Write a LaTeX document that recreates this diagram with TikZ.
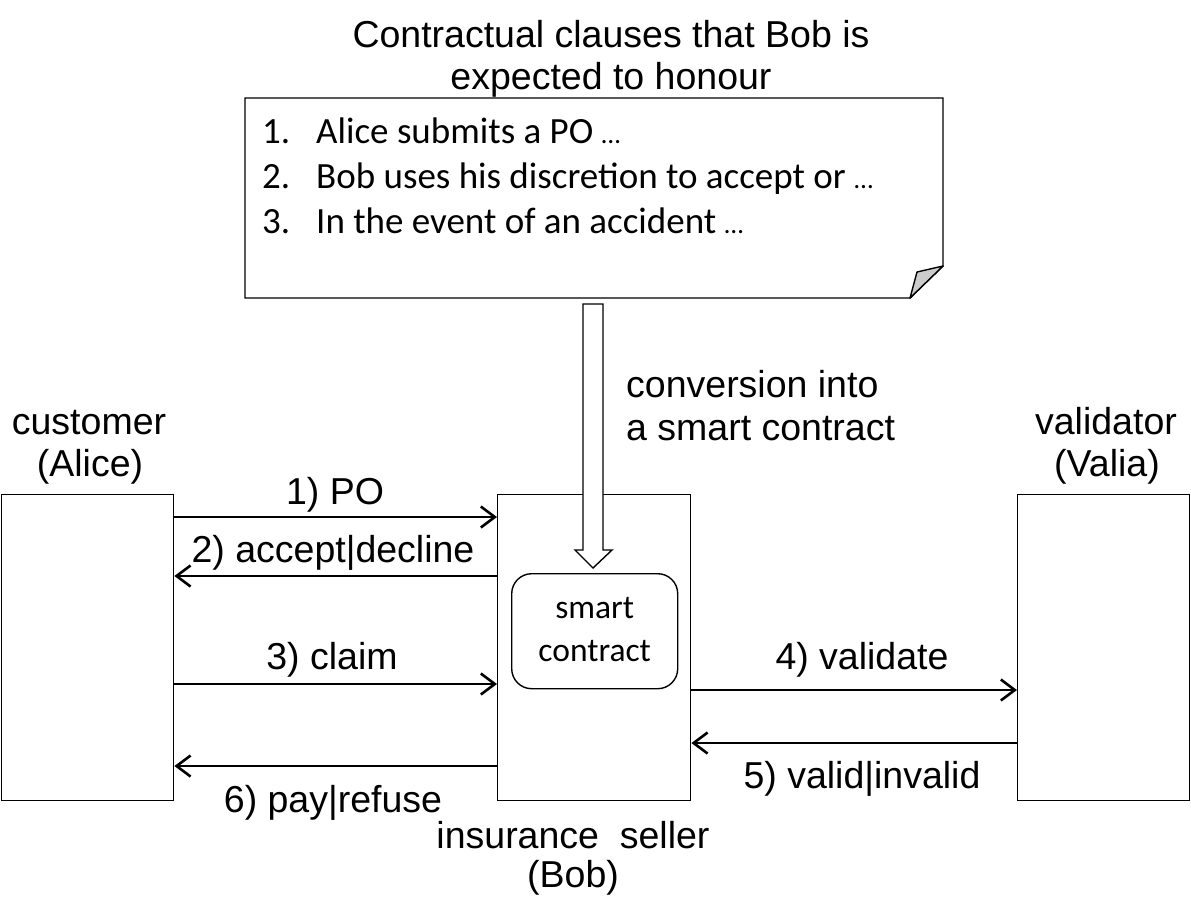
\documentclass[tikz,border=0pt]{standalone}
\usepackage{fontspec}
\setmainfont{Liberation Sans}
\newfontfamily\calibri{Carlito}
\newcommand{\smalldots}{{\fontsize{27}{27}\selectfont …}}
\usetikzlibrary{arrows.meta,calc}
\begin{document}
\begin{tikzpicture}[x=1pt,y=-1pt,
  actor/.style={draw,line width=1.4pt,inner sep=0pt,anchor=north west},
  msg/.style={line width=1.5pt,-{Straight Barb[length=14pt,width=21pt,line width=2.6pt]}},
  lbl/.style={font=\fontsize{37.5}{42}\selectfont,inner sep=0pt,anchor=base},
  lst/.style={font=\calibri\fontsize{37}{44}\selectfont,inner sep=0pt,anchor=base west}]
\useasboundingbox (0,0) rectangle (1191,911);
\fill[white] (0,0) rectangle (1191,911);

% title
\node[lbl] (t1) at (611,47) {Contractual clauses that Bob is};
\node[lbl] (t2) at (611,89) {expected to honour};

% note with folded corner
\coordinate (nA) at (245,98);
\coordinate (nB) at (943,98);
\coordinate (nC) at (943,266);
\coordinate (nD) at (910,298);
\coordinate (nE) at (245,298);
\coordinate (nF) at (917,272);
\draw[line width=1.4pt,line join=miter] (nA) -- (nB) -- (nC) -- (nD) -- (nE) -- cycle;
\draw[line width=1.4pt,fill=black!20,line join=round] (nC) -- (nD) -- (nF) -- cycle;
\node[lst] (n1) at (262,143) {1.};
\node[lst] (l1) at (316,143) {Alice submits a PO \smalldots};
\node[lst] (n2) at (262,188) {2.};
\node[lst] (l2) at (316,188) {Bob uses his discretion to accept or \smalldots};
\node[lst] (n3) at (262,233) {3.};
\node[lst] (l3) at (316,233) {In the event of an accident \smalldots};

% actors
\node[actor,minimum width=172pt,minimum height=306pt] (alice) at (1,494) {};
\node[actor,minimum width=193pt,minimum height=306pt] (bob) at (497,494) {};
\node[actor,minimum width=172pt,minimum height=306pt] (valia) at (1017,494) {};
\node[draw,line width=1.4pt,rounded corners=20pt,minimum width=166pt,minimum height=115pt,
      anchor=north west,inner sep=0pt,align=center,
      font=\calibri\fontsize{33.5}{43}\selectfont] (sc) at (511,573) {\raisebox{3pt}{smart}\\\raisebox{3pt}{contract}};

% hollow conversion arrow
\draw[line width=1.4pt,fill=white,line join=miter]
  (583,304) -- (603,304) -- (603,550) -- (612,550) -- (593,568) -- (575,550) -- (583,550) -- cycle;
\node[lbl,anchor=base west] (c1) at (626,397) {conversion into};
\node[lbl,anchor=base west] (c2) at (626,440) {a smart contract};

% actor labels
\node[lbl] (a1) at (89,434) {customer};
\node[lbl] (a2) at (90,476) {(Alice)};
\node[lbl] (v1) at (1106,434) {validator};
\node[lbl] (v2) at (1107,476) {(Valia)};
\node[lbl] (b1) at (573,848) {insurance\ \ seller};
\node[lbl] (b2) at (573,887) {(Bob)};

% messages
\draw[msg] ($(alice.north east)+(0,23)$) -- ($(bob.north west)+(0,23)$);
\node[lbl] (m1) at (335,504) {1) PO};
\draw[msg] ($(bob.north west)+(0,82)$) -- ($(alice.north east)+(0,82)$);
\node[lbl] (m2) at (333,562) {2) accept|decline};
\draw[msg] ($(alice.north east)+(0,190)$) -- ($(bob.north west)+(0,190)$);
\node[lbl] (m3) at (332,669) {3) claim};
\draw[msg] ($(bob.north east)+(0,196)$) -- ($(valia.north west)+(0,196)$);
\node[lbl] (m4) at (862,669) {4) validate};
\draw[msg] ($(valia.north west)+(0,249)$) -- ($(bob.north east)+(0,249)$);
\node[lbl] (m5) at (862,788) {5) valid|invalid};
\draw[msg] ($(bob.north west)+(0,272)$) -- ($(alice.north east)+(0,272)$);
\node[lbl] (m6) at (333,812) {6) pay|refuse};
\end{tikzpicture}
\end{document}
